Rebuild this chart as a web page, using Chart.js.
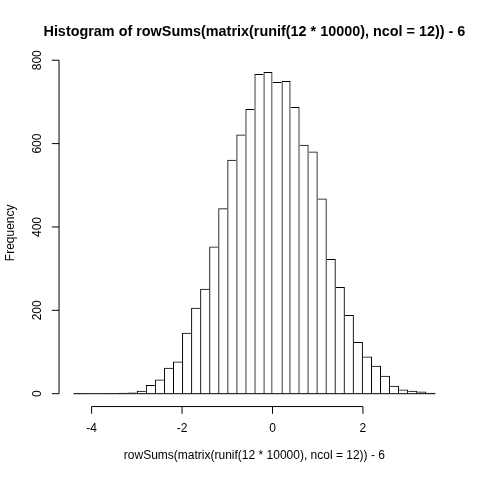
<!DOCTYPE html>
<html>
<head>
<meta charset="utf-8">
<script src="https://cdn.jsdelivr.net/npm/chart.js@4"></script>
<style>
  body { margin: 0; background: #fff; }
  #wrap { width: 480px; height: 480px; }
</style>
</head>
<body>
<div id="wrap"><canvas id="hist" width="480" height="480"></canvas></div>
<script>
// histogram bins (left edges, width 0.2) and counts
const binStarts = [-4.4, -4.2, -4.0, -3.8, -3.6, -3.4, -3.2, -3.0, -2.8, -2.6,
                   -2.4, -2.2, -2.0, -1.8, -1.6, -1.4, -1.2, -1.0, -0.8, -0.6,
                   -0.4, -0.2, 0.0, 0.2, 0.4, 0.6, 0.8, 1.0, 1.2, 1.4,
                   1.6, 1.8, 2.0, 2.2, 2.4, 2.6, 2.8, 3.0, 3.2, 3.4];
const binWidth = 0.2;
const counts = [1, 0, 0, 0, 1, 2, 3, 7, 21, 34,
                62, 77, 146, 206, 252, 353, 445, 561, 622, 683,
                767, 772, 748, 750, 688, 597, 581, 468, 323, 256,
                189, 124, 89, 67, 43, 19, 10, 7, 5, 2];
const xTicks = [-4, -2, 0, 2];
const yTicks = [0, 200, 400, 600, 800];
const titleText = 'Histogram of rowSums(matrix(runif(12 * 10000), ncol = 12)) - 6';
const xLabel = 'rowSums(matrix(runif(12 * 10000), ncol = 12)) - 6';
const yLabel = 'Frequency';

const FONT = "'Liberation Sans', Arial, sans-serif";

// R style axes extend 4% past the data range
const xLo = binStarts[0], xHi = binStarts[binStarts.length - 1] + binWidth;
const yHi = Math.max(...counts);
const xPad = (xHi - xLo) * 0.04, yPad = yHi * 0.04;

const bars = binStarts.map((b, i) => ({ x: b + binWidth / 2, y: counts[i] }));
const baseline = [{ x: xLo, y: 0 }, { x: xHi, y: 0 }];

// shared edge between two bars is drawn once, by the taller one
function edges(ctx) {
  const i = ctx.dataIndex, h = counts[i];
  const n = counts.length;
  return {
    left: i === 0 || h > counts[i - 1] ? 1 : 0,
    right: i === n - 1 || h >= counts[i + 1] ? 1 : 0,
    top: 1,
    bottom: 0
  };
}

const rAxes = {
  id: 'rAxes',
  afterDraw(chart) {
    const c = chart.ctx;
    const xs = chart.scales.x, ys = chart.scales.y;
    const area = chart.chartArea;
    c.save();
    c.strokeStyle = '#000';
    c.fillStyle = '#000';
    c.lineWidth = 1;

    // x axis
    const ay = area.bottom;
    c.beginPath();
    c.moveTo(xs.getPixelForValue(xTicks[0]), ay);
    c.lineTo(xs.getPixelForValue(xTicks[xTicks.length - 1]), ay);
    xTicks.forEach(t => {
      const px = xs.getPixelForValue(t);
      c.moveTo(px, ay);
      c.lineTo(px, ay + 7.2);
    });
    c.stroke();
    c.font = '12px ' + FONT;
    c.textAlign = 'center';
    c.textBaseline = 'middle';
    xTicks.forEach(t => c.fillText(String(t), xs.getPixelForValue(t), 429));

    // y axis
    const ax = area.left;
    c.beginPath();
    c.moveTo(ax, ys.getPixelForValue(yTicks[0]));
    c.lineTo(ax, ys.getPixelForValue(yTicks[yTicks.length - 1]));
    yTicks.forEach(t => {
      const py = ys.getPixelForValue(t);
      c.moveTo(ax, py);
      c.lineTo(ax - 7.2, py);
    });
    c.stroke();
    yTicks.forEach(t => {
      c.save();
      c.translate(38, ys.getPixelForValue(t));
      c.rotate(-Math.PI / 2);
      c.fillText(String(t), 0, 0);
      c.restore();
    });

    // titles
    const midX = (area.left + area.right) / 2;
    c.fillText(xLabel, midX, 456);
    c.save();
    c.translate(10.5, (area.top + area.bottom) / 2);
    c.rotate(-Math.PI / 2);
    c.fillText(yLabel, 0, 0);
    c.restore();
    c.font = 'bold 14.4px ' + FONT;
    c.fillText(titleText, midX, 32);
    c.restore();
  }
};

new Chart(document.getElementById('hist'), {
  type: 'bar',
  data: {
    datasets: [{
      type: 'bar',
      data: bars,
      backgroundColor: 'rgba(0,0,0,0)',
      borderColor: '#000000',
      borderWidth: edges,
      borderSkipped: false,
      inflateAmount: 0,
      barPercentage: 1,
      categoryPercentage: 1
    }, {
      type: 'line',
      data: baseline,
      borderColor: '#000000',
      borderWidth: 1,
      pointRadius: 0,
      fill: false
    }]
  },
  options: {
    responsive: false,
    animation: false,
    layout: { padding: { left: 59.04, right: 30.24, top: 59.04, bottom: 73.44 } },
    plugins: { legend: { display: false }, tooltip: { enabled: false } },
    scales: {
      x: {
        type: 'linear', display: false, offset: false,
        min: xLo - xPad, max: xHi + xPad,
        grid: { offset: false }, ticks: { stepSize: 2 }
      },
      y: { display: false, min: -yPad, max: yHi + yPad }
    }
  },
  plugins: [rAxes]
});
</script>
</body>
</html>
